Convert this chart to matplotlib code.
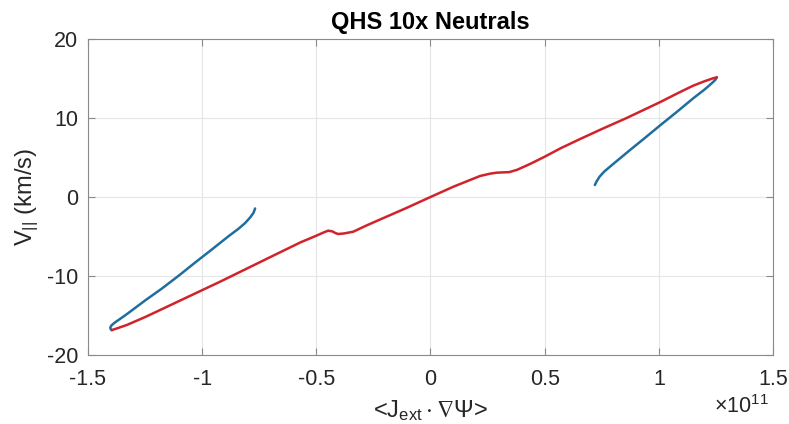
import matplotlib
matplotlib.use("Agg")
import matplotlib.pyplot as plt
import numpy as np

plt.rcParams['font.family'] = ['Liberation Sans', 'DejaVu Sans']
plt.rcParams['mathtext.fontset'] = 'custom'
plt.rcParams['mathtext.rm'] = 'Liberation Sans'
plt.rcParams['mathtext.it'] = 'Liberation Sans:italic'
plt.rcParams['mathtext.bf'] = 'Liberation Sans:bold'
plt.rcParams['mathtext.fallback'] = 'stix'

# Red branch (x in units of 1e11)
red_x = [-1.396, -1.37, -1.33, -1.25, -1.14, -1.03, -0.92, -0.80, -0.68, -0.57, -0.50,
         -0.465, -0.448, -0.43, -0.415, -0.404, -0.38, -0.338, -0.28, -0.221, -0.11,
         0.0, 0.1, 0.217, 0.26, 0.29, 0.32, 0.345, 0.38, 0.436, 0.50, 0.572, 0.656,
         0.75, 0.859, 1.005, 1.08, 1.151, 1.20, 1.235, 1.254]
red_y = [-16.85, -16.6, -16.2, -15.2, -13.7, -12.2, -10.7, -9.0, -7.3, -5.75, -4.9,
         -4.45, -4.26, -4.35, -4.58, -4.68, -4.62, -4.39, -3.6, -2.85, -1.45,
         0.0, 1.3, 2.66, 2.95, 3.08, 3.12, 3.15, 3.45, 4.18, 5.1, 6.2, 7.35,
         8.6, 10.0, 12.0, 13.1, 14.1, 14.65, 15.0, 15.15]

# Blue branch, left part
blue1_x = [-1.396, -1.401, -1.402, -1.397, -1.385, -1.368, -1.348, -1.324, -1.25, -1.177,
           -1.10, -1.031, -0.96, -0.886, -0.84, -0.812, -0.79, -0.775, -0.768]
blue1_y = [-16.85, -16.7, -16.5, -16.25, -15.95, -15.6, -15.2, -14.7, -13.1, -11.6,
           -9.9, -8.3, -6.7, -5.0, -4.0, -3.3, -2.6, -2.0, -1.45]

# Blue branch, right part
blue2_x = [0.720, 0.728, 0.740, 0.76, 0.801, 0.874, 0.94, 1.005, 1.08, 1.151, 1.20,
           1.232, 1.248, 1.254]
blue2_y = [1.52, 2.0, 2.55, 3.2, 4.2, 5.95, 7.5, 9.05, 10.8, 12.5, 13.6,
           14.4, 14.85, 15.15]

xticks = [-1.5, -1, -0.5, 0, 0.5, 1, 1.5]
xticklabels = ['-1.5', '-1', '-0.5', '0', '0.5', '1', '1.5']
yticks = [-20, -10, 0, 10, 20]
yticklabels = ['-20', '-10', '0', '10', '20']

scale = 1e11

fig = plt.figure(figsize=(7.89, 4.24), dpi=100)
ax = fig.add_axes([0.1115, 0.1627, 0.8682, 0.7453])

blue = '#1f6e9e'
red = '#d0232b'
ax.plot(np.array(blue1_x) * scale, blue1_y, color=blue, lw=1.8, solid_capstyle='round',
        solid_joinstyle='round')
ax.plot(np.array(blue2_x) * scale, blue2_y, color=blue, lw=1.8, solid_capstyle='round',
        solid_joinstyle='round')
ax.plot(np.array(red_x) * scale, red_y, color=red, lw=1.8, solid_capstyle='round',
        solid_joinstyle='round')

ax.set_xlim(-1.5 * scale, 1.5 * scale)
ax.set_ylim(-20, 20)
ax.set_xticks(np.array(xticks) * scale)
ax.set_xticklabels(xticklabels)
ax.set_yticks(yticks)
ax.set_yticklabels(yticklabels)

ax.grid(True, color='#e6e6e6', lw=0.8)
ax.set_axisbelow(True)
for s in ax.spines.values():
    s.set_color('#8a8a8a')
    s.set_linewidth(0.8)
ax.tick_params(direction='in', top=True, right=True, length=5, width=0.8,
               color='#8a8a8a', labelsize=15.5, labelcolor='#262626')
ax.tick_params(axis='x', pad=10)
ax.tick_params(axis='y', pad=7)

ax.set_title('QHS 10x Neutrals', fontsize=17, fontweight='bold', pad=7)
ax.set_ylabel(r'V$_{||}$ (km/s)', fontsize=17, color='#262626', labelpad=4)
ax.set_xlabel(r'<J$_{\mathrm{ext}}\cdot\nabla\Psi$>', fontsize=17, color='#262626', labelpad=6)
fig.text(0.94, 0.025, r'$\times$10$^{11}$', fontsize=15.5, color='#262626', ha='center')

fig.savefig('out.png', dpi=100)
